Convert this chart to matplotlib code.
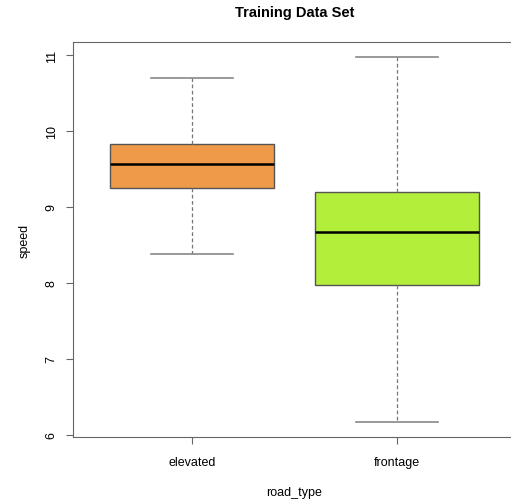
import matplotlib.pyplot as plt

plt.rcParams['font.family'] = ['Liberation Sans', 'DejaVu Sans']

road_types = ['elevated', 'frontage']
whisker_low = [8.38, 6.16]
q1 = [9.25, 7.97]
median = [9.57, 8.67]
q3 = [9.83, 9.20]
whisker_high = [10.70, 10.98]
colors = ['#EE9A49', '#B3EE3A']

stats = []
for i in range(len(road_types)):
    stats.append(dict(label=road_types[i], whislo=whisker_low[i], q1=q1[i],
                      med=median[i], q3=q3[i], whishi=whisker_high[i]))

fig = plt.figure(figsize=(5.11, 5.02), dpi=100)
ax = fig.add_axes([73/511, 1-438/502, 443/511, 395/502])

bp = ax.bxp(stats, positions=[1, 2], widths=0.8, showfliers=False,
            patch_artist=True,
            boxprops=dict(edgecolor='#555555', linewidth=1),
            medianprops=dict(color='black', linewidth=1.8),
            whiskerprops=dict(color='#777777', linestyle=(0, (3, 2)), linewidth=0.9),
            capprops=dict(color='#888888', linewidth=1.2),
            capwidths=0.4)
for patch, c in zip(bp['boxes'], colors):
    patch.set_facecolor(c)

lo = min(whisker_low)
hi = max(whisker_high)
pad = (hi - lo) * 0.04
ax.set_ylim(lo - pad, hi + pad)
ax.set_xlim(0.42, 2.58)
ax.set_yticks([6, 7, 8, 9, 10, 11])
ax.set_yticklabels(['6', '7', '8', '9', '10', '11'], rotation=90, va='center')
ax.set_xticks([1, 2])
ax.set_xticklabels(road_types)

for s in ax.spines.values():
    s.set_color('#666666')
ax.tick_params(colors='#666666', labelcolor='black', labelsize=9, length=5)
ax.tick_params(axis='x', pad=9)
ax.tick_params(axis='y', pad=6)

ax.set_title('Training Data Set', fontsize=10.5, fontweight='bold', pad=19)
ax.set_xlabel('road_type', fontsize=9, labelpad=13)
ax.set_ylabel('speed', fontsize=9, labelpad=11)

fig.savefig('out.png', dpi=100)
